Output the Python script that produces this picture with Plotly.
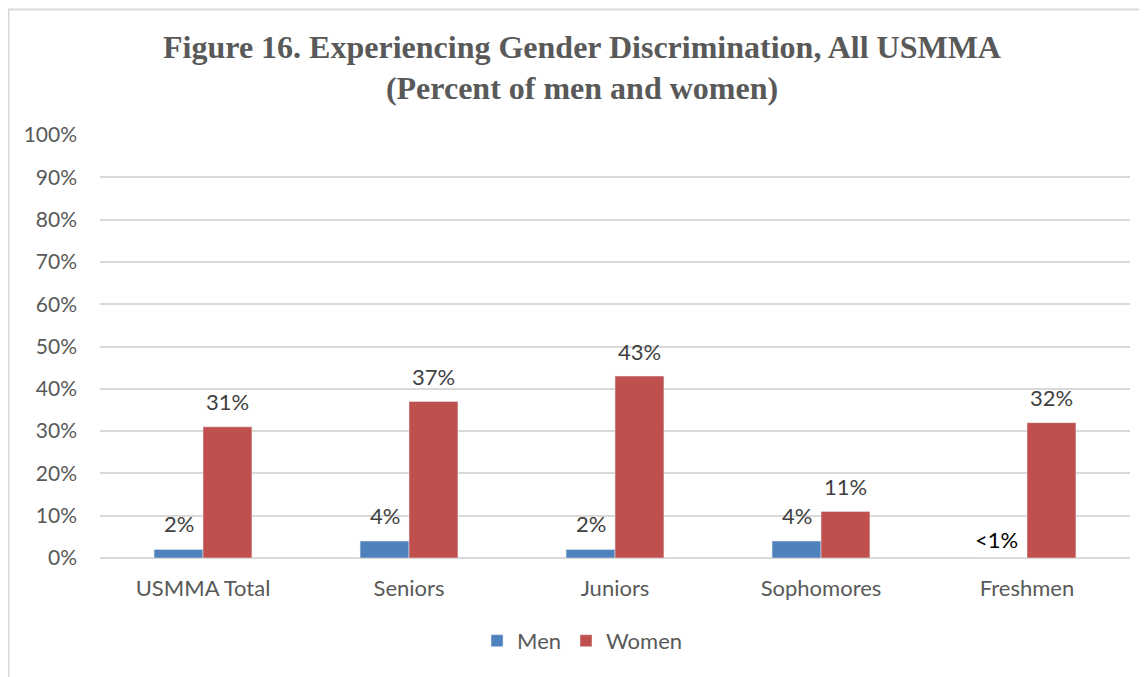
import plotly.graph_objects as go

categories = ["USMMA Total", "Seniors", "Juniors", "Sophomores", "Freshmen"]
men = [2, 4, 2, 4, 0]
men_labels = ["2%", "4%", "2%", "4%", "<1%"]
women = [31, 37, 43, 11, 32]
women_labels = ["31%", "37%", "43%", "11%", "32%"]
y_ticks = list(range(0, 101, 10))
y_tick_labels = [f"{v}%" for v in y_ticks]

W, H = 1147, 677
ml, mr, mt, mb = 92, 25, 127, 127
pw, ph = W - ml - mr, H - mt - mb
BARGAP = 0.525
bar_px = pw / len(categories) * (1 - BARGAP) / 2

FONT = "Lato, 'Open Sans', sans-serif"

fig = go.Figure()
fig.add_trace(go.Bar(x=categories, y=men, name="Men", marker_color="#4F81BD"))
fig.add_trace(go.Bar(x=categories, y=women, name="Women", marker_color="#C0504D"))

annotations = []
for cat, v, lab in zip(categories, men, men_labels):
    is_lt = lab.startswith("<")
    annotations.append(dict(
        x=cat, y=v, xref="x", yref="y", text=lab, showarrow=False,
        xshift=-bar_px / 2 - (6 if is_lt else 0), yshift=19 if is_lt else 26, yanchor="middle",
        font=dict(family=FONT, size=22, color="#000000" if is_lt else "#404040")))
for cat, v, lab in zip(categories, women, women_labels):
    annotations.append(dict(
        x=cat, y=v, xref="x", yref="y", text=lab, showarrow=False,
        xshift=bar_px / 2, yshift=25, yanchor="middle",
        font=dict(family=FONT, size=22, color="#404040")))

fig.update_layout(
    width=W, height=H,
    margin=dict(l=ml, r=mr, t=mt, b=mb),
    paper_bgcolor="white", plot_bgcolor="white",
    barmode="group", bargap=BARGAP, bargroupgap=0,
    title=dict(
        text="<b>Figure 16. Experiencing Gender Discrimination, All USMMA<br>(Percent of men and women)</b>",
        x=574 / W, xanchor="center", y=1 - 49.5 / H, yanchor="top",
        font=dict(family="'Liberation Serif', 'Times New Roman', serif", size=32, color="#595959"),
    ),
    font=dict(family=FONT, color="#595959", size=21),
    legend=dict(orientation="h", x=0.468, xanchor="center", y=-0.196, yanchor="middle",
                font=dict(size=22, color="#595959"), traceorder="normal", itemwidth=30),
    xaxis=dict(showgrid=False, showline=False, ticks="", tickfont=dict(size=22, color="#595959"),
               ticklabelstandoff=15),
    yaxis=dict(range=[0, 100], tickvals=y_ticks, ticktext=y_tick_labels, showgrid=True,
               gridcolor="#D9D9D9", gridwidth=1.5, zeroline=True, zerolinecolor="#D9D9D9",
               zerolinewidth=1.5, tickfont=dict(size=21, color="#595959"), ticklabelstandoff=22),
    annotations=annotations,
    shapes=[dict(type="rect", xref="paper", yref="paper",
                 x0=(0.5 - ml) / pw, x1=(W + 5 - ml) / pw,
                 y0=(H - mb - (H + 5)) / ph, y1=(H - mb - 1.5) / ph,
                 line=dict(color="#D9D9D9", width=2), fillcolor="rgba(0,0,0,0)", layer="below")],
)

fig.write_html("out.html")
